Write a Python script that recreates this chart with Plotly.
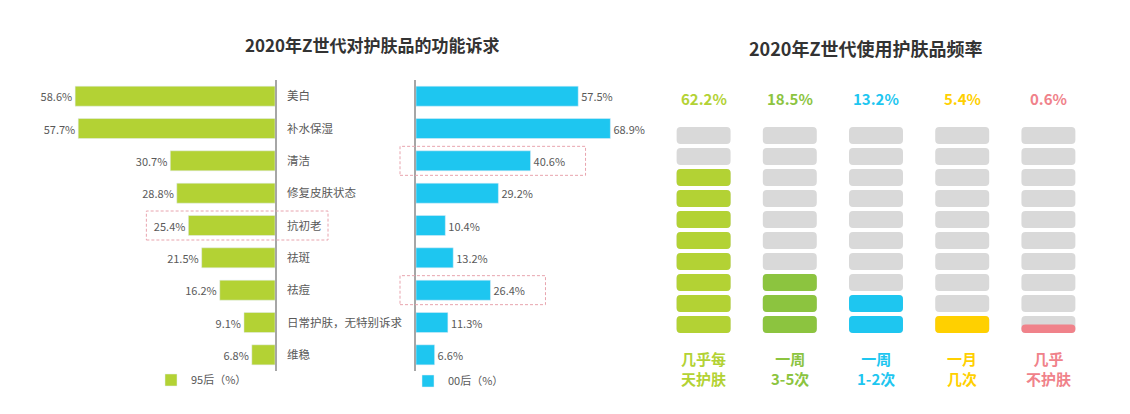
import plotly.graph_objects as go

# ---------------- data ----------------
categories = ["美白", "补水保湿", "清洁", "修复皮肤状态", "抗初老", "祛斑", "祛痘",
              "日常护肤，无特别诉求", "维稳"]
gen95 = [58.6, 57.7, 30.7, 28.8, 25.4, 21.5, 16.2, 9.1, 6.8]
gen00 = [57.5, 68.9, 40.6, 29.2, 10.4, 13.2, 26.4, 11.3, 6.6]
highlight95 = ["抗初老"]
highlight00 = ["清洁", "祛痘"]

freq_labels = ["几乎每<br>天护肤", "一周<br>3-5次", "一周<br>1-2次", "一月<br>几次", "几乎<br>不护肤"]
freq_values = [62.2, 18.5, 13.2, 5.4, 0.6]
filled_blocks = [8, 3, 2, 1, 0.5]
total_blocks = 10

# ---------------- style ----------------
W, H = 1122, 406
OFF = 8  # page body margin
FONT = "Noto Sans CJK SC"
GREEN = "#b3d234"
BLUE = "#1ec6f0"
GRAY = "#d9d9d9"
TXT = "#595959"
freq_colors = ["#b3d234", "#8cc43f", "#1ec6f0", "#ffd000", "#f0828a"]


def fx(px):
    return (px - OFF) / W


def fy(py):
    return 1 - (py - OFF) / H


# left-chart pixel layout
L_X0, L_X1, L_MAX = 40, 275, 68.9
R_X0, R_X1, R_MAX = 416, 640, 79.4
Y_TOP, Y_BOT = 80, 371
# right-chart pixel layout
G_X0, G_X1 = 660.5, 1091.5
G_Y0, G_Y1 = 125, 335

fig = go.Figure()

fig.add_trace(go.Bar(
    y=categories, x=gen95, orientation="h", marker_color=GREEN, width=0.62,
    text=[f"{v}%" for v in gen95], textposition="outside", cliponaxis=False,
    textfont=dict(size=11, color=TXT, family=FONT),
    xaxis="x", yaxis="y", name="95后（%）", legend="legend", hoverinfo="skip"))
fig.add_trace(go.Bar(
    y=categories, x=gen00, orientation="h", marker_color=BLUE, width=0.62,
    text=[f"{v}%" for v in gen00], textposition="outside", cliponaxis=False,
    textfont=dict(size=11, color=TXT, family=FONT),
    xaxis="x2", yaxis="y2", name="00后（%）", legend="legend2", hoverinfo="skip"))

# ---------------- block grid ----------------
BW = 0.626
HALF = 0.405
gx, gb = [], []
for c in range(len(freq_values)):
    for r in range(total_blocks):
        gx.append(c)
        gb.append(r - HALF)
fig.add_trace(go.Bar(x=gx, base=gb, y=[2 * HALF] * len(gx), width=BW,
                     marker=dict(color=GRAY, cornerradius=4, line=dict(width=0)),
                     xaxis="x3", yaxis="y3", showlegend=False, hoverinfo="skip"))

fx_, fb_, fh_, fc_ = [], [], [], []
for c, n in enumerate(filled_blocks):
    full = int(n)
    for r in range(full):
        fx_.append(c); fb_.append(r - HALF); fh_.append(2 * HALF); fc_.append(freq_colors[c])
    part = n - full
    if part > 0:
        fx_.append(c); fb_.append(full - HALF); fh_.append(2 * HALF * part); fc_.append(freq_colors[c])
fig.add_trace(go.Bar(x=fx_, base=fb_, y=fh_, width=BW,
                     marker=dict(color=fc_, cornerradius=4, line=dict(width=0)),
                     xaxis="x3", yaxis="y3", showlegend=False, hoverinfo="skip"))

# ---------------- annotations ----------------
ann = [
    dict(text="<b>2020年Z世代对护肤品的功能诉求</b>", x=fx(372), y=fy(45), xref="paper", yref="paper",
         showarrow=False, font=dict(size=17, color="#333333", family=FONT), xanchor="center", yanchor="middle"),
    dict(text="<b>2020年Z世代使用护肤品频率</b>", x=fx(866), y=fy(48), xref="paper", yref="paper",
         showarrow=False, font=dict(size=18, color="#333333", family=FONT), xanchor="center", yanchor="middle"),
]
for c, (v, lab, col) in enumerate(zip(freq_values, freq_labels, freq_colors)):
    ann.append(dict(text=f"<b>{v}%</b>", x=c, xref="x3", y=fy(98), yref="paper", showarrow=False,
                    font=dict(size=15, color=col, family=FONT), xanchor="center", yanchor="middle"))
    ann.append(dict(text=f"<b>{lab}</b>", x=c, xref="x3", y=fy(368), yref="paper", showarrow=False,
                    font=dict(size=15, color=col, family=FONT), xanchor="center", yanchor="middle"))

# ---------------- highlight boxes ----------------
row_h = (Y_BOT - Y_TOP) / len(categories)


def row_y(name):
    return Y_TOP + row_h * (categories.index(name) + 0.5)


shapes = []
box_line = dict(color="#e8a4ae", width=1, dash="3px,2px")
for name in highlight95:
    v = gen95[categories.index(name)]
    tip = L_X1 - v * (L_X1 - L_X0) / L_MAX
    yc = row_y(name)
    shapes.append(dict(type="rect", xref="paper", yref="paper", x0=fx(tip - 42), x1=fx(L_X1 + 53),
                       y0=fy(yc + 14.5), y1=fy(yc - 14.5), line=box_line))
for name in highlight00:
    v = gen00[categories.index(name)]
    tip = R_X0 + v * (R_X1 - R_X0) / R_MAX
    yc = row_y(name)
    shapes.append(dict(type="rect", xref="paper", yref="paper", x0=fx(R_X0 - 16), x1=fx(tip + 55),
                       y0=fy(yc + 14.5), y1=fy(yc - 14.5), line=box_line))

fig.update_layout(
    width=W, height=H, margin=dict(l=0, r=0, t=0, b=0),
    paper_bgcolor="white", plot_bgcolor="white",
    barmode="overlay", font=dict(family=FONT, color=TXT),
    xaxis=dict(domain=[fx(L_X0), fx(L_X1)], range=[L_MAX, 0], visible=False, anchor="y"),
    yaxis=dict(domain=[fy(Y_BOT), fy(Y_TOP)], anchor="x", side="right",
               categoryorder="array", categoryarray=categories, range=[len(categories) - 0.5, -0.5],
               showline=True, linecolor="#a6a6a6", linewidth=1.5, ticks="", showgrid=False,
               zeroline=False, tickfont=dict(size=11.5, color=TXT, family=FONT), ticklabelstandoff=8),
    xaxis2=dict(domain=[fx(R_X0), fx(R_X1)], range=[0, R_MAX], visible=False, anchor="y2"),
    yaxis2=dict(domain=[fy(Y_BOT), fy(Y_TOP)], anchor="x2", side="left",
                categoryorder="array", categoryarray=categories, range=[len(categories) - 0.5, -0.5],
                showline=True, linecolor="#a6a6a6", linewidth=1.5, ticks="", showgrid=False,
                zeroline=False, showticklabels=False),
    xaxis3=dict(domain=[fx(G_X0), fx(G_X1)], range=[-0.5, len(freq_values) - 0.5], visible=False, anchor="y3"),
    yaxis3=dict(domain=[fy(G_Y1), fy(G_Y0)], range=[-0.5, total_blocks - 0.5], visible=False, anchor="x3"),
    legend=dict(x=fx(151), y=fy(380), xanchor="left", yanchor="middle", orientation="h",
                font=dict(size=11, color=TXT, family=FONT), bgcolor="rgba(0,0,0,0)", itemwidth=30),
    legend2=dict(x=fx(408), y=fy(381), xanchor="left", yanchor="middle", orientation="h",
                 font=dict(size=11, color=TXT, family=FONT), bgcolor="rgba(0,0,0,0)", itemwidth=30),
    annotations=ann, shapes=shapes, showlegend=True,
)

fig.write_html("out.html")
